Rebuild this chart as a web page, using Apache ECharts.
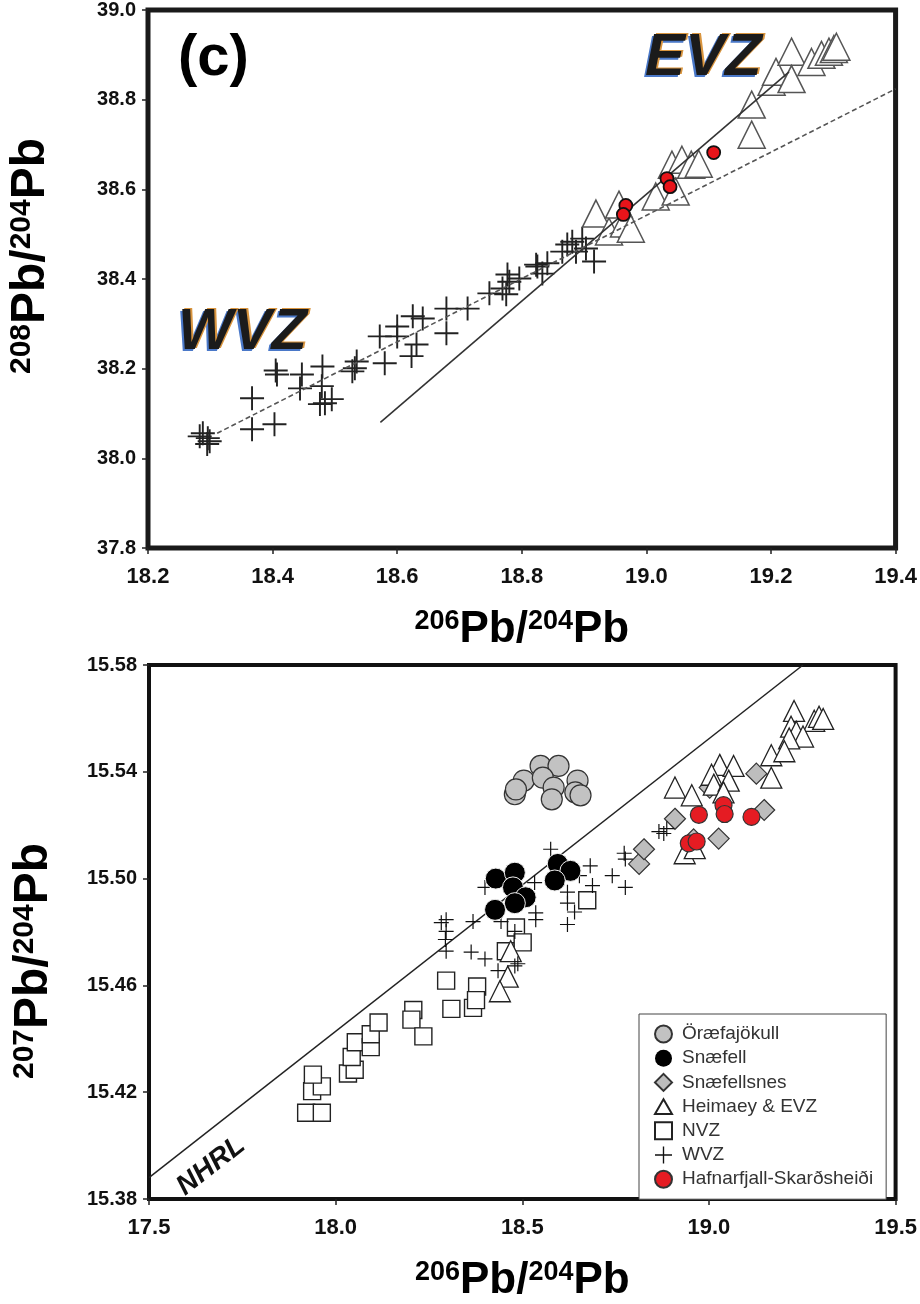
<!DOCTYPE html>
<html><head><meta charset="utf-8">
<script src="https://cdn.jsdelivr.net/npm/echarts@6/dist/echarts.min.js"></script>
<style>html,body{margin:0;padding:0;background:#fff}#c{width:920px;height:1304px}</style>
</head><body><div id="c"></div>
<script>
// ---------- tick labels ----------
const topXTicks = [18.2, 18.4, 18.6, 18.8, 19.0, 19.2, 19.4];
const topYTicks = [37.8, 38.0, 38.2, 38.4, 38.6, 38.8, 39.0];
const botXTicks = [17.5, 18.0, 18.5, 19.0, 19.5];
const botYTicks = [15.38, 15.42, 15.46, 15.50, 15.54, 15.58];

// ---------- panel (c): 208Pb/204Pb vs 206Pb/204Pb ----------
const topWVZ = [
  [18.288,38.056],[18.296,38.045],[18.299,38.038],[18.295,38.032],[18.283,38.049],
  [18.367,38.134],[18.367,38.065],[18.403,38.076],[18.405,38.196],[18.407,38.187],
  [18.447,38.187],[18.444,38.156],[18.480,38.205],[18.479,38.161],[18.476,38.121],
  [18.484,38.123],[18.495,38.132],[18.535,38.216],[18.528,38.194],[18.532,38.201],
  [18.580,38.212],[18.572,38.272],[18.600,38.294],[18.600,38.272],[18.625,38.317],
  [18.641,38.312],[18.631,38.254],[18.623,38.228],[18.679,38.334],[18.679,38.279],
  [18.713,38.334],[18.748,38.368],[18.769,38.379],[18.775,38.366],[18.780,38.394],
  [18.777,38.410],[18.796,38.401],[18.825,38.428],[18.841,38.435],[18.833,38.412],
  [18.823,38.432],[18.865,38.461],[18.873,38.477],[18.881,38.483],[18.887,38.461],
  [18.897,38.490],[18.903,38.468],[18.916,38.439]
];
const topEVZ = [
  [18.919,38.546],[18.940,38.506],[18.956,38.566],[18.964,38.524],[18.975,38.512],
  [19.015,38.584],[19.041,38.655],[19.057,38.666],[19.072,38.655],[19.047,38.595],
  [19.084,38.657],[19.169,38.789],[19.169,38.722],[19.201,38.840],[19.208,38.862],
  [19.233,38.907],[19.233,38.846],[19.265,38.884],[19.281,38.900],[19.293,38.907],
  [19.301,38.913],[19.305,38.918]
];
const topHS = [
  [18.967,38.564],[18.963,38.544],[19.033,38.624],[19.038,38.606],[19.108,38.682]
];
const topSolidLine = [[18.573,38.080],[19.229,38.862]];
const topDashedLine = [[18.311,38.056],[19.400,38.824]];

// ---------- lower panel: 207Pb/204Pb vs 206Pb/204Pb ----------
const botOraefa = [
  [18.480,15.5316],[18.504,15.5367],[18.549,15.5422],[18.597,15.5422],[18.555,15.5378],
  [18.584,15.5341],[18.579,15.5297],[18.648,15.5367],[18.642,15.5323],[18.656,15.5312],
  [18.483,15.5334]
];
const botSnaefell = [
  [18.429,15.5000],[18.480,15.5022],[18.475,15.4967],[18.509,15.4930],[18.480,15.4908],
  [18.427,15.4883],[18.595,15.5055],[18.629,15.5029],[18.587,15.4993]
];
const botSnaefellsnes = [
  [18.813,15.5055],[18.826,15.5110],[18.909,15.5224],[18.959,15.5147],[19.026,15.5150],
  [19.002,15.5341],[19.127,15.5393],[19.148,15.5257]
];
const botHeimaey = [
  [19.228,15.5628],[19.282,15.5591],[19.295,15.5606],[19.306,15.5598],[19.220,15.5569],
  [19.234,15.5550],[19.252,15.5532],[19.215,15.5525],[19.167,15.5462],[19.202,15.5477],
  [19.167,15.5378],[19.029,15.5426],[19.066,15.5422],[19.007,15.5389],[19.013,15.5352],
  [19.053,15.5367],[19.039,15.5323],[18.909,15.5341],[18.954,15.5312],[18.935,15.5095],
  [18.962,15.5114],[18.469,15.4728],[18.461,15.4633],[18.440,15.4578]
];
const botNVZ = [
  [17.921,15.4123],[17.963,15.4123],[17.937,15.4204],[17.963,15.4222],[17.939,15.4266],
  [18.033,15.4270],[18.051,15.4284],[18.043,15.4332],[18.054,15.4387],[18.094,15.4369],
  [18.094,15.4417],[18.115,15.4461],[18.208,15.4508],[18.203,15.4472],[18.235,15.4409],
  [18.296,15.4618],[18.310,15.4512],[18.368,15.4516],[18.379,15.4596],[18.376,15.4545],
  [18.456,15.4728],[18.483,15.4817],[18.501,15.4761],[18.674,15.4919]
];
const botWVZ = [
  [18.576,15.5110],[18.400,15.4967],[18.533,15.4985],[18.653,15.5011],[18.682,15.5048],
  [18.688,15.4974],[18.621,15.4949],[18.621,15.4908],[18.640,15.4875],[18.621,15.4828],
  [18.536,15.4872],[18.536,15.4846],[18.296,15.4846],[18.283,15.4835],[18.296,15.4802],
  [18.294,15.4772],[18.296,15.4728],[18.368,15.4839],[18.363,15.4725],[18.400,15.4699],
  [18.435,15.4655],[18.480,15.4673],[18.488,15.4681],[18.480,15.4802],[18.443,15.4839],
  [18.741,15.5011],[18.773,15.5095],[18.776,15.5073],[18.776,15.4967],[18.879,15.5169],
  [18.866,15.5176],[18.887,15.5187]
];
const botHS = [
  [18.973,15.5239],[19.039,15.5275],[19.042,15.5242],[19.114,15.5231],[18.946,15.5132],
  [18.967,15.5139]
];
const botNHRL = [[17.500,15.388],[19.252,15.580]];

const seriesNames = ['Öræfajökull','Snæfell','Snæfellsnes','Heimaey & EVZ','NVZ','WVZ','Hafnarfjall-Skarðsheiði'];

// ---------- styling ----------
const FONT = '"Liberation Sans",Arial,sans-serif';
const PLUS = 'path://M4.6,0H5.4V4.6H10V5.4H5.4V10H4.6V5.4H0V4.6H4.6Z';

function titleRich(big, small) {
  return {
    m: {fontSize: big, fontWeight: 'bold', fontFamily: FONT, fill: '#000', color: '#000', lineHeight: big, verticalAlign: 'bottom'},
    s: {fontSize: small, fontWeight: 'bold', fontFamily: FONT, fill: '#000', color: '#000', lineHeight: small, verticalAlign: 'top'}
  };
}
function xAxisCfg(gi, min, max, step, ticks, dec, name, gap) {
  return {
    type: 'value', gridIndex: gi, min: min, max: max, interval: step,
    splitLine: {show: false}, axisLine: {show: false},
    axisTick: {show: true, length: 6, customValues: ticks, lineStyle: {color: '#222', width: 1.5}},
    axisLabel: {customValues: ticks, margin: 18, fontSize: 22, fontWeight: 'bold', fontFamily: FONT, color: '#111',
      formatter: v => v.toFixed(dec)},
    name: name, nameLocation: 'middle', nameGap: gap,
    nameTextStyle: {rich: titleRich(44, 27)}
  };
}
function yAxisCfg(gi, min, max, step, ticks, dec) {
  return {
    type: 'value', gridIndex: gi, min: min, max: max, interval: step,
    splitLine: {show: false}, axisLine: {show: false},
    axisTick: {show: true, length: 6, customValues: ticks, lineStyle: {color: '#222', width: 1.5}},
    axisLabel: {customValues: ticks, margin: 12, fontSize: 20, fontWeight: 'bold', fontFamily: FONT, color: '#111',
      formatter: v => v.toFixed(dec)}
  };
}
function scatter(name, data, gi, symbol, size, color, border, bw, z) {
  return {
    type: 'scatter', name: name, data: data, xAxisIndex: gi, yAxisIndex: gi,
    symbol: symbol, symbolSize: size, z: z,
    itemStyle: {color: color, borderColor: border, borderWidth: bw, opacity: 1},
    emphasis: {disabled: true}, silent: true
  };
}
function yTitle(x, y, sup) {
  return {type: 'text', x: x, y: y, rotation: Math.PI / 2, z: 100,
    style: {text: '{s|' + sup + '}{m|Pb/}{s|204}{m|Pb}', rich: titleRich(48, 30), textAlign: 'center', textVerticalAlign: 'middle'}};
}

const chart = echarts.init(document.getElementById('c'), null, {renderer: 'canvas'});
chart.setOption({
  animation: false,
  backgroundColor: '#fff',
  grid: [
    {left: 148, top: 8, width: 749, height: 540, show: true, borderColor: '#1a1a1a', borderWidth: 5, backgroundColor: 'transparent'},
    {left: 149, top: 665, width: 751, height: 545, show: true, borderColor: '#111', borderWidth: 4, backgroundColor: 'transparent'}
  ],
  xAxis: [
    xAxisCfg(0, 18.2, 19.4, 0.2, topXTicks, 1, '{s|206}{m|Pb/}{s|204}{m|Pb}', 60),
    xAxisCfg(1, 17.5, 19.5, 0.5, botXTicks, 1, '{s|206}{m|Pb/}{s|204}{m|Pb}', 60)
  ],
  yAxis: [
    yAxisCfg(0, 37.8, 39.0, 0.2, topYTicks, 1),
    yAxisCfg(1, 15.38, 15.58, 0.04, botYTicks, 2)
  ],
  legend: {
    data: [
      {name: seriesNames[0]},
      {name: seriesNames[1], itemStyle: {borderColor: '#000', borderWidth: 0}},
      {name: seriesNames[2], icon: 'path://M0,8L8,0L16,8L8,16Z'},
      {name: seriesNames[3], icon: 'path://M8,0L16,14L0,14Z'},
      {name: seriesNames[4], icon: 'path://M0,0H14V14H0Z'},
      {name: seriesNames[5]},
      {name: seriesNames[6]}
    ],
    orient: 'vertical', left: 639, top: 1014, symbolKeepAspect: true,
    padding: [10, 13, 10, 15], itemGap: 4.2, itemWidth: 17, itemHeight: 17,
    borderColor: '#444', borderWidth: 1, backgroundColor: '#fff', selectedMode: false,
    textStyle: {fontSize: 19, color: '#333', fontFamily: FONT, lineHeight: 20, padding: [0, 0, 0, 5]}
  },
  series: [
    // top panel
    scatter('tWVZ', topWVZ, 0, PLUS, 24, '#222', '#222', 0, 3),
    scatter('tEVZ', topEVZ, 0, 'triangle', 27, '#fff', '#555', 1.5, 4),
    {type: 'line', name: 'tSolid', data: topSolidLine, xAxisIndex: 0, yAxisIndex: 0, symbol: 'none', z: 5,
      lineStyle: {color: '#333', width: 1.6}, silent: true},
    {type: 'line', name: 'tDash', data: topDashedLine, xAxisIndex: 0, yAxisIndex: 0, symbol: 'none', z: 5,
      lineStyle: {color: '#555', width: 1.6, type: [5, 3]}, silent: true},
    scatter('tHS', topHS, 0, 'circle', 13, '#e8141a', '#111', 1.8, 6),
    // bottom panel
    {type: 'line', name: 'NHRL', data: botNHRL, xAxisIndex: 1, yAxisIndex: 1, symbol: 'none', z: 2,
      lineStyle: {color: '#222', width: 1.5}, silent: true},
    scatter('NVZ', botNVZ, 1, 'rect', 17, '#fff', '#222', 1.4, 3),
    scatter('Snæfellsnes', botSnaefellsnes, 1, 'diamond', 21, '#bdbdbd', '#333', 1.2, 4),
    scatter('Heimaey & EVZ', botHeimaey, 1, 'triangle', 21, '#fff', '#222', 1.3, 5),
    scatter('WVZ', botWVZ, 1, PLUS, 15, '#111', '#111', 0, 6),
    scatter('Öræfajökull', botOraefa, 1, 'circle', 21, '#c2c2c2', '#333', 1.2, 7),
    scatter('Snæfell', botSnaefell, 1, 'circle', 21, '#000', '#eee', 1, 8),
    scatter('Hafnarfjall-Skarðsheiði', botHS, 1, 'circle', 17, '#e51c23', '#333', 1.2, 9)
  ],
  graphic: [
    yTitle(31, 256, '208'),
    yTitle(34, 961, '207'),
    {type: 'text', x: 178, y: 30, z: 100, style: {text: '(c)', fontSize: 58, fontWeight: 'bold', fontFamily: FONT, fill: '#000', textVerticalAlign: 'top'}},
    {type: 'text', x: 643, y: 30, z: 100, style: {text: 'EVZ', fontSize: 60, fontWeight: 'bold', fontStyle: 'italic', fontFamily: FONT, fill: '#4a78c8', textVerticalAlign: 'top'}},
    {type: 'text', x: 647, y: 27, z: 100, style: {text: 'EVZ', fontSize: 60, fontWeight: 'bold', fontStyle: 'italic', fontFamily: FONT, fill: '#d9953f', textVerticalAlign: 'top'}},
    {type: 'text', x: 645, y: 28, z: 101, style: {text: 'EVZ', fontSize: 60, fontWeight: 'bold', fontStyle: 'italic', fontFamily: FONT, fill: '#1b1b1b', textVerticalAlign: 'top'}},
    {type: 'text', x: 176, y: 306, z: 100, style: {text: 'WVZ', fontSize: 58, fontWeight: 'bold', fontStyle: 'italic', fontFamily: FONT, fill: '#4a78c8', textVerticalAlign: 'top'}},
    {type: 'text', x: 180, y: 303, z: 100, style: {text: 'WVZ', fontSize: 58, fontWeight: 'bold', fontStyle: 'italic', fontFamily: FONT, fill: '#d9953f', textVerticalAlign: 'top'}},
    {type: 'text', x: 178, y: 304, z: 101, style: {text: 'WVZ', fontSize: 58, fontWeight: 'bold', fontStyle: 'italic', fontFamily: FONT, fill: '#1b1b1b', textVerticalAlign: 'top'}},
    {type: 'text', x: 211, y: 1166, rotation: 38 * Math.PI / 180, z: 100, style: {text: 'NHRL', fontSize: 28, fontWeight: 'bold', fontStyle: 'italic', fontFamily: FONT, fill: '#111', textAlign: 'center', textVerticalAlign: 'middle'}}
  ]
});
</script></body></html>
